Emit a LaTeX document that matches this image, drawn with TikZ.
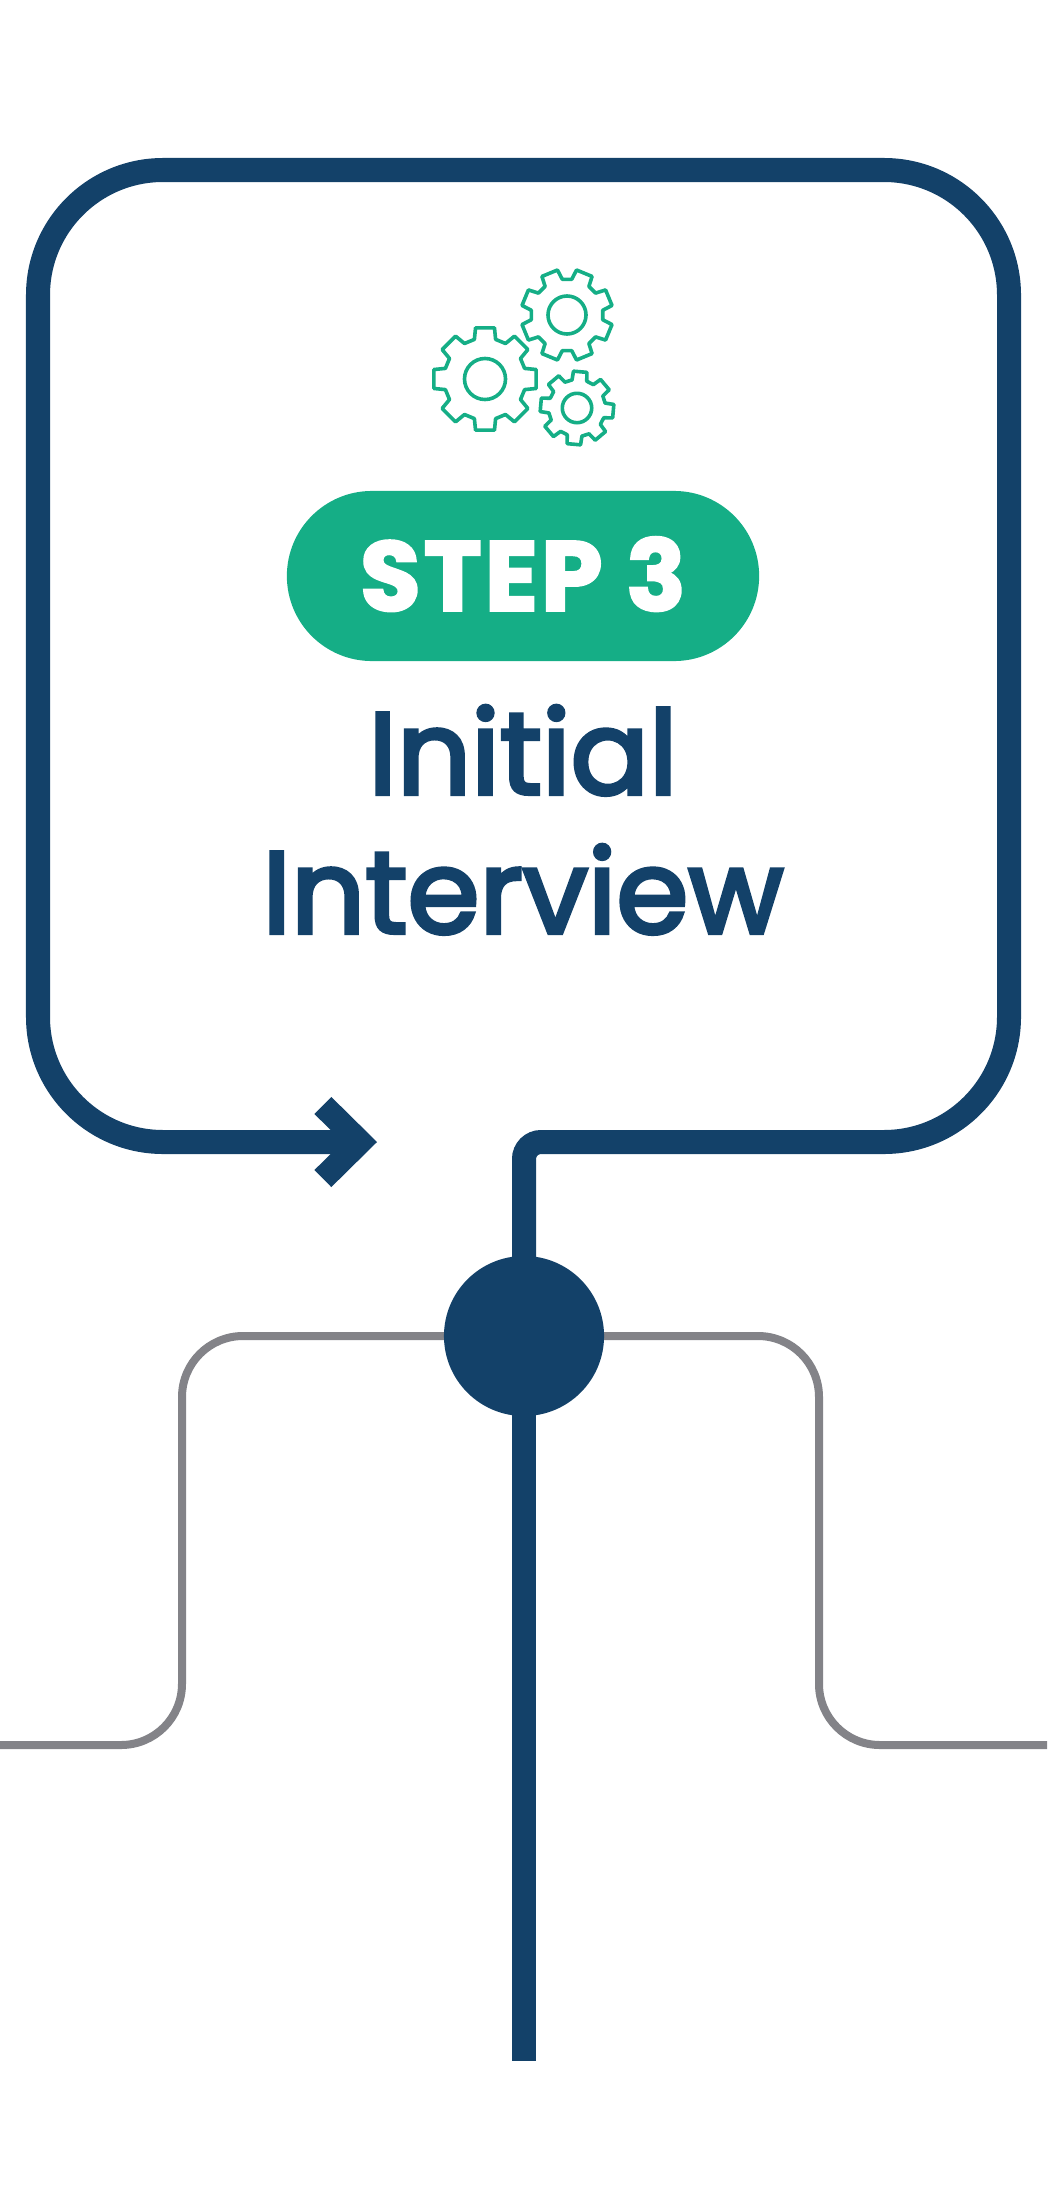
\documentclass[tikz,border=0pt]{standalone}
\usepackage{fontspec}
\setmainfont{Poppins}
\newfontfamily\heavyfont{Poppins}[BoldFeatures={FakeBold=2.5}, LetterSpace=3]
\newfontfamily\titlefont{Poppins}[FakeBold=3.5]
\usepackage{xcolor}
\usetikzlibrary{positioning}
\usetikzlibrary{arrows.meta}

\pgfdeclarelayer{background}
\pgfsetlayers{background,main}

\definecolor{pathblue}{HTML}{134169}
\definecolor{stepgreen}{HTML}{15AE86}
\definecolor{linegray}{HTML}{838388}

\tikzset{
  mainline/.style={draw=pathblue, line width=2.4mm},
  sideline/.style={draw=linegray, line width=0.8mm, rounded corners=6.1mm},
  gearline/.style={draw=stepgreen, line width=0.36mm, line join=round},
  titletext/.style={anchor=base, text=pathblue, font=\titlefont\fontsize{33}{40}\selectfont},
}

% centre x, centre y, root radius, tip radius, turn, hole radius
\newcommand{\gearwheel}[6]{%
  \draw[gearline] ([shift={(#1,#2)}]{#5-15}:#3)
    \foreach \t in {0,...,7}{
      -- ([shift={(#1,#2)}]{#5+\t*45-15}:#3)
      -- ([shift={(#1,#2)}]{#5+\t*45-10.5}:#4)
      -- ([shift={(#1,#2)}]{#5+\t*45+10.5}:#4)
      -- ([shift={(#1,#2)}]{#5+\t*45+15}:#3)
    } -- cycle;
  \draw[gearline] (#1,#2) circle[radius=#6];
}

\begin{document}
\begin{tikzpicture}[x=0.01cm, y=-0.01cm]
\useasboundingbox (0,0) rectangle (1047,2185);

\node[circle, fill=pathblue, minimum size=1.6cm, inner sep=0pt] (hub) at (524,1336) {};

% lines under the hub
\begin{pgfonlayer}{background}
\coordinate (leftend) at (0,1745);
\coordinate (rightend) at (1047,1745);
\draw[sideline] (hub.center) -- (182,1336) -- (182,1745) -- (leftend);
\draw[sideline] (hub.center) -- (819,1336) -- (819,1745) -- (rightend);

% main loop
\coordinate (loopend) at (377,1142);
\coordinate (tail) at (524,2061);
\draw[mainline, -{Straight Barb[length=3.7mm, width=7.3mm]}] (hub.center) [rounded corners=1.7mm] -- (524,1142)
  [rounded corners=12.5mm] -- (1009,1142) -- (1009,170) -- (38,170) -- (38,1142) -- (loopend);
\draw[mainline] (hub.center) -- (tail);
\end{pgfonlayer}

% gears
\gearwheel{485}{379}{41}{52}{90}{2.05mm}
\gearwheel{567}{315}{36}{46}{22.5}{1.9mm}
\gearwheel{577}{408}{28.5}{37}{95}{1.47mm}

\node[fill=stepgreen, rounded corners=8.5mm, minimum width=4.72cm, minimum height=1.7cm,
  inner sep=0pt, text=white, text height=0.69cm, text depth=0pt,
  font=\heavyfont\bfseries\fontsize{28}{30}\selectfont] (step) at (523,576) {STEP 3};

\node[titletext] (titletop) at (523,794) {Initial};
\node[titletext] (titlebottom) at (523,933) {Interview};
\end{tikzpicture}
\end{document}
